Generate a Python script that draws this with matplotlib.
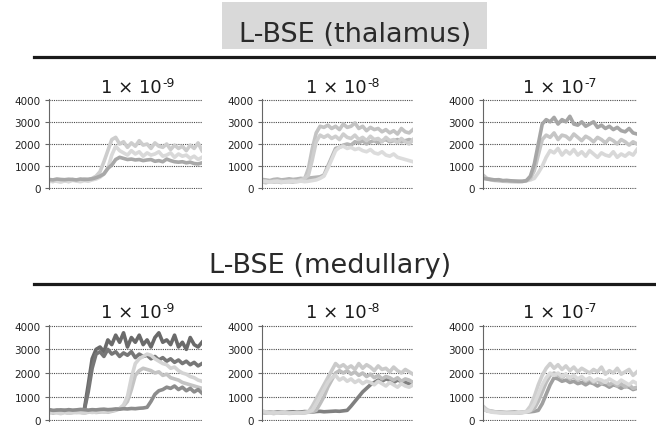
import numpy as np
import matplotlib
matplotlib.use("Agg")
import matplotlib.pyplot as plt
from matplotlib.patches import Rectangle
from matplotlib.lines import Line2D

W, H = 656, 431

SECTIONS = ["L-BSE (thalamus)", "L-BSE (medullary)"]
DOSE_EXP = ["-9", "-8", "-7"]
YTICKS = [0, 1000, 2000, 3000, 4000]

# ---- thalamus traces (arbitrary frame index) ----
TH9_A = [350, 300, 380, 320, 360, 310, 400, 350, 330, 420, 380, 450, 550, 750, 1200, 1700, 2200, 2300, 2000,
         2100, 1850, 2050, 1900, 2150, 1950, 2000, 1800, 2050, 1900, 1850, 2000, 1750, 1950, 1800, 1900, 1700,
         1950, 1800, 2050, 1700]
TH9_B = [300, 350, 320, 280, 340, 300, 360, 330, 300, 350, 320, 380, 420, 500, 650, 900, 1500, 1900, 1700,
         1600, 1500, 1700, 1550, 1650, 1450, 1600, 1500, 1550, 1650, 1450, 1500, 1600, 1400, 1550, 1450, 1500,
         1350, 1450, 1300, 1400]
TH9_C = [400, 380, 420, 400, 390, 410, 400, 380, 420, 400, 410, 430, 480, 550, 650, 900, 1050, 1300, 1400,
         1350, 1300, 1320, 1280, 1300, 1250, 1280, 1300, 1220, 1250, 1200, 1320, 1250, 1200, 1180, 1200, 1150,
         1180, 1120, 1100, 1150]

TH8_A = [300, 250, 320, 280, 300, 260, 330, 300, 280, 320, 350, 420, 900, 1800, 2500, 2800, 2750,
         2850, 2700, 2800, 2650, 2900, 2750, 2800, 2950, 2700, 2800, 2600, 2750, 2650, 2700, 2550, 2650, 2500,
         2600, 2450, 2700, 2550, 2500, 2650]
TH8_B = [350, 300, 280, 330, 300, 320, 280, 310, 350, 330, 380, 450, 600, 1300, 2100, 2400, 2300,
         2400, 2250, 2350, 2200, 2450, 2300, 2250, 2400, 2200, 2300, 2150, 2350, 2200, 2250, 2100, 2300, 2150,
         2200, 2050, 2250, 2100, 2000, 2200]
TH8_C = [400, 380, 350, 400, 420, 380, 400, 430, 400, 420, 450, 430, 460, 480, 500, 520, 600, 1000, 1400,
         1800, 1850, 1950, 2000, 1950, 2100, 2050, 2150, 2000, 2100, 2150, 2050, 2150, 2200, 2100, 2150, 2200,
         2100, 2150, 2200, 2150]
TH8_D = [300, 320, 280, 300, 330, 280, 300, 320, 310, 290, 330, 300, 320, 350, 380, 450, 550, 900, 1300,
         1700, 1850, 1900, 1800, 1850, 1750, 1800, 1700, 1650, 1750, 1600, 1550, 1650, 1500, 1450, 1550, 1400,
         1350, 1300, 1250, 1200]

TH7_A = [450, 420, 400, 380, 390, 350, 360, 340, 330, 320, 310, 350, 550, 1100, 2000, 2900, 3100,
         3000, 3200, 2900, 3100, 3000, 3250, 2900, 2850, 3000, 2800, 2900, 3000, 2750, 2850, 2700, 2800, 2650,
         2750, 2600, 2550, 2700, 2500, 2450]
TH7_B = [600, 450, 400, 380, 360, 340, 330, 320, 310, 300, 320, 350, 450, 800, 1500, 2200, 2400,
         2300, 2500, 2200, 2400, 2350, 2200, 2450, 2300, 2150, 2350, 2250, 2100, 2300, 2200, 2050, 2250, 2150,
         2000, 2200, 2100, 1950, 2100, 2000]
TH7_C = [500, 420, 380, 350, 330, 320, 310, 300, 300, 310, 320, 340, 380, 450, 700, 1000, 1400, 1700,
         1600, 1800, 1500, 1700, 1550, 1750, 1500, 1650, 1450, 1700, 1550, 1400, 1600, 1500, 1450, 1650, 1400,
         1550, 1450, 1600, 1500, 1750]

# ---- medullary traces ----
ME9_A = [400, 380, 420, 400, 390, 410, 380, 400, 420, 450, 1500, 2600, 3000,
         3100, 2900, 3400, 3200, 3600, 3300, 3700, 3100, 3500, 3300, 3600, 3200, 3400, 3100, 3500, 3700, 3300,
         3400, 3200, 3600, 3100, 3300, 3000, 3500, 3200, 3100, 3300]
ME9_B = [420, 400, 380, 410, 420, 400, 390, 410, 400, 430, 1200, 2200, 2800,
         2900, 2700, 3000, 2800, 2900, 2700, 2850, 2750, 2900, 2650, 2800, 2700, 2750, 2600, 2700, 2550, 2650,
         2500, 2600, 2450, 2550, 2400, 2500, 2350, 2450, 2300, 2400]
ME9_C = [300, 350, 320, 280, 330, 300, 350, 320, 340, 300, 360, 330, 350, 380, 340, 370, 400, 450, 500, 650,
         1000, 1800, 2400, 2600, 2700, 2800, 2750, 2600, 2500, 2400, 2350, 2200, 2250, 2100, 2000, 1950, 1850,
         1800, 1700, 1650]
ME9_D = [350, 300, 330, 310, 340, 300, 320, 350, 330, 310, 340, 360, 330, 350, 370, 340, 380, 420, 480, 600,
         800, 1300, 1900, 2100, 2200, 2150, 2100, 2000, 2050, 1900, 1950, 1800, 1750, 1700, 1600, 1550, 1500,
         1450, 1400, 1350]
ME9_E = [450, 420, 430, 440, 420, 450, 430, 440, 460, 450, 430, 450, 440, 460, 470, 450, 460, 480, 470, 490,
         480, 500, 490, 510, 520, 550, 800, 1100, 1250, 1300, 1400, 1350, 1450, 1300, 1400, 1250, 1350, 1200,
         1300, 1150]

ME8_A = [350, 300, 330, 280, 320, 300, 310, 290, 300, 320, 300, 310, 350, 600, 900, 1200, 1500, 1800, 2100,
         2400, 2250, 2350, 2200, 2300, 2150, 2400, 2200, 2350, 2250, 2100, 2300, 2150, 2200, 2050, 2250, 2100,
         2000, 2150, 2050, 1950]
ME8_B = [400, 350, 300, 320, 300, 330, 310, 300, 320, 300, 310, 330, 360, 420, 700, 1000, 1300, 1600, 1800,
         1900, 1700, 1800, 1650, 1750, 1600, 1700, 1550, 1650, 1600, 1500, 1650, 1550, 1450, 1600, 1500, 1400,
         1550, 1450, 1400, 1500]
ME8_C = [380, 350, 330, 320, 310, 300, 320, 310, 300, 310, 320, 330, 340, 360, 420, 700, 1000, 1400, 1700,
         2000, 2100, 2000, 2100, 1950, 2050, 1900, 2000, 1850, 1950, 1800, 1900, 1750, 1850, 1800, 1700, 1800,
         1650, 1750, 1700, 1600]
ME8_D = [330, 320, 340, 330, 350, 340, 330, 350, 360, 340, 350, 370, 360, 350, 370, 380, 360, 370, 380, 390,
         380, 400, 420, 600, 800, 1000, 1200, 1350, 1500, 1600, 1700, 1650, 1750, 1700, 1600, 1700, 1650, 1600,
         1550, 1600]

ME7_A = [600, 450, 380, 350, 330, 320, 300, 310, 300, 320, 330, 380, 600, 1000, 1500, 1900, 2200, 2400,
         2200, 2350, 2150, 2300, 2100, 2250, 2050, 2200, 2100, 2000, 2150, 2050, 2250, 1950, 2100, 2000, 2200,
         1950, 2050, 2150, 1900, 2050]
ME7_B = [550, 420, 380, 360, 340, 320, 310, 300, 320, 310, 330, 350, 400, 500, 800, 1200, 1600, 1900, 2000,
         1900, 1800, 1950, 1750, 1850, 1700, 1800, 1650, 1750, 1600, 1700, 1550, 1650, 1500, 1600, 1450, 1550,
         1400, 1500, 1350, 1400]
ME7_C = [500, 400, 380, 360, 350, 340, 330, 340, 350, 330, 340, 350, 360, 380, 420, 700, 1100, 1500, 1800,
         1750, 1650, 1700, 1600, 1650, 1550, 1600, 1500, 1600, 1550, 1450, 1550, 1500, 1400, 1500, 1450, 1350,
         1450, 1400, 1300, 1350]
ME7_D = [500, 400, 350, 330, 320, 310, 300, 300, 310, 320, 330, 350, 420, 700, 1100, 1500, 1800, 2000,
         1900, 2000, 1850, 1950, 1800, 1900, 1750, 1850, 1700, 1800, 1650, 1750, 1700, 1600, 1750, 1650, 1550,
         1700, 1600, 1500, 1650, 1550]

# (row, col) -> list of (trace, grey level)
PANELS = {
    (0, 0): [(TH9_A, "#cdcdcd"), (TH9_B, "#d9d9d9"), (TH9_C, "#a8a8a8")],
    (0, 1): [(TH8_C, "#b5b5b5"), (TH8_A, "#c3c3c3"), (TH8_B, "#cecece"), (TH8_D, "#dcdcdc")],
    (0, 2): [(TH7_C, "#d8d8d8"), (TH7_B, "#c6c6c6"), (TH7_A, "#a6a6a6")],
    (1, 0): [(ME9_A, "#6a6a6a"), (ME9_B, "#777777"), (ME9_D, "#c4c4c4"), (ME9_C, "#d4d4d4"),
             (ME9_E, "#8c8c8c")],
    (1, 1): [(ME8_D, "#808080"), (ME8_C, "#bebebe"), (ME8_A, "#cacaca"), (ME8_B, "#d6d6d6")],
    (1, 2): [(ME7_C, "#a0a0a0"), (ME7_B, "#bdbdbd"), (ME7_A, "#cfcfcf"), (ME7_D, "#dadada")],
}

# pixel layout of the plot areas
COLS_PX = [(49, 202), (262, 413), (483, 637)]
ROWS_PX = [(100, 190), (326, 422)]
TITLE_X = [137, 342, 559]
TITLE_BASE_Y = [93, 318]

fig = plt.figure(figsize=(W / 100, H / 100), dpi=100)
fig.patch.set_facecolor("white")

# section headers
fig.patches.append(Rectangle((222 / W, 1 - 50 / H), 265 / W, 47 / H, transform=fig.transFigure,
                             facecolor="#d9d9d9", edgecolor="none", zorder=0))
fig.text(355 / W, 1 - 42 / H, SECTIONS[0], ha="center", va="baseline", fontsize=19.5, color="#2a2a2a")
fig.text(330 / W, 1 - 273 / H, SECTIONS[1], ha="center", va="baseline", fontsize=19.5, color="#2a2a2a")
for yl in (58, 285):
    fig.lines.append(Line2D([34 / W, 1.0], [1 - yl / H] * 2, transform=fig.transFigure,
                            color="#1a1a1a", lw=2.3))

for (r, c), traces in PANELS.items():
    x0, x1 = COLS_PX[c]
    y0, y1 = ROWS_PX[r]
    ax = fig.add_axes([x0 / W, 1 - y1 / H, (x1 - x0) / W, (y1 - y0) / H])
    for trace, col in traces:
        x = np.linspace(0, 1, len(trace))
        ax.plot(x, trace, color=col, lw=2.6, solid_joinstyle="round")
    ax.set_xlim(0, 1)
    ax.set_ylim(-30, 4030)
    ax.set_yticks(YTICKS)
    ax.set_xticks([])
    ax.yaxis.grid(True, linestyle=(0, (1, 1)), color="#4a4a4a", lw=0.8)
    ax.set_axisbelow(True)
    for s in ("top", "right", "bottom"):
        ax.spines[s].set_visible(False)
    ax.spines["left"].set_linestyle((0, (1, 1)))
    ax.spines["left"].set_color("#666666")
    ax.tick_params(axis="y", labelsize=7.5, length=3, width=0.8, color="#666666",
                   labelcolor="#222222", pad=3)

    # panel title: 1 x 10^exp
    base = fig.text((TITLE_X[c] - 6) / W, 1 - TITLE_BASE_Y[r] / H, "1 × 10", ha="center",
                    va="baseline", fontsize=13, color="#1a1a1a")
    ax.annotate(DOSE_EXP[c], xy=(1, 1), xycoords=base, xytext=(0.5, 1.5), textcoords="offset points",
                ha="left", va="top", fontsize=9, color="#1a1a1a")

fig.savefig("out.png", dpi=100)
